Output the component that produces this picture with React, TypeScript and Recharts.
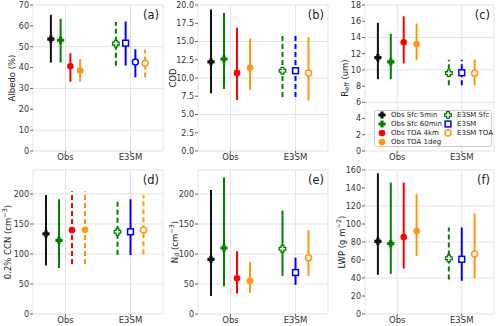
import React from 'react'
import { ComposedChart, Line, Scatter, XAxis, YAxis, CartesianGrid, ReferenceArea } from 'recharts'

const categories = ['Obs', 'E3SM']

// (a) albedo
const albedoKeys = ['obs5', 'obs60', 'toa4', 'toa1', 'e3sfc', 'e3', 'e3b', 'e3toa']
const albedoMean = [53.6, 53.1, 40.6, 38.6, 51.5, 51.7, 42.7, 42.1]
const albedoLow = [42.4, 42.4, 33.2, 33.2, 40.9, 40.9, 35.3, 35.2]
const albedoHigh = [65.3, 63.4, 46.9, 44.0, 61.8, 62.1, 48.8, 48.5]
const albedoTicks = [0, 10, 20, 30, 40, 50, 60, 70]

// (b) cloud optical depth
const codKeys = ['obs5', 'obs60', 'toa4', 'toa1', 'e3sfc', 'e3', 'e3toa']
const codMean = [12.2, 12.6, 10.7, 11.4, 11.0, 11.0, 10.7]
const codLow = [7.9, 8.5, 7.0, 8.4, 7.4, 7.4, 6.9]
const codHigh = [19.4, 18.9, 16.9, 15.4, 16.0, 16.0, 15.6]
const codTicks = [0, 2.5, 5, 7.5, 10, 12.5, 15, 17.5, 20]

// (c) effective radius
const reffKeys = ['obs5', 'obs60', 'toa4', 'toa1', 'e3sfc', 'e3', 'e3toa']
const reffMean = [11.5, 11.0, 13.4, 13.2, 9.6, 9.65, 9.6]
const reffLow = [8.85, 8.85, 10.8, 11.2, 8.1, 8.1, 8.1]
const reffHigh = [15.8, 14.45, 16.6, 15.7, 11.25, 11.25, 11.3]
const reffTicks = [0, 2, 4, 6, 8, 10, 12, 14, 16, 18]

// (d) CCN
const ccnKeys = ['obs5', 'obs60', 'toa4', 'toa1', 'e3sfc', 'e3', 'e3toa']
const ccnMean = [133.7, 122.7, 139.8, 140.3, 137, 137, 139.8]
const ccnLow = [80.7, 76.8, 83.4, 83.4, 98.9, 98.3, 99.4]
const ccnHigh = [198.3, 191.2, 204.4, 204.4, 191.2, 191.2, 197.8]
const ccnTicks = [0, 50, 100, 150, 200]

// (e) droplet number
const ndKeys = ['obs5', 'obs60', 'toa4', 'toa1', 'e3sfc', 'e3', 'e3toa']
const ndMean = [91.2, 110, 59.7, 55.2, 108.8, 69.1, 93.9]
const ndLow = [29.8, 46.4, 34.3, 35.4, 63.5, 48.6, 63.5]
const ndHigh = [206.6, 227.6, 104.4, 86.2, 172.4, 93.9, 139.8]
const ndTicks = [0, 50, 100, 150, 200]

// (f) LWP
const lwpKeys = ['obs5', 'obs60', 'toa4', 'toa1', 'e3sfc', 'e3', 'e3toa']
const lwpMean = [80.7, 78.2, 85.5, 92.2, 61.9, 60.8, 66.7]
const lwpLow = [43.5, 44.6, 50.5, 64.5, 38.3, 36.9, 39.8]
const lwpHigh = [156.3, 146, 146, 133.1, 96.2, 96.2, 111.7]
const lwpTicks = [0, 20, 40, 60, 80, 100, 120, 140, 160]

// line styles per panel (1 = dashed)
const albedoDash = [0, 0, 0, 0, 1, 0, 0, 1]
const codDash = [0, 0, 0, 0, 1, 1, 0]
const reffDash = [0, 0, 0, 0, 1, 1, 0]
const ccnDash = [0, 0, 1, 1, 1, 0, 1]
const ndDash = [0, 0, 0, 0, 0, 0, 0]
const lwpDash = [0, 0, 0, 0, 1, 0, 0]

const ORANGE = '#ff9510'
const GREEN = '#008000'

const seriesStyle: Record<string, { color: string; marker: string; group: number }> = {
  obs5: { color: '#111', marker: 'pfill', group: 0 },
  obs60: { color: GREEN, marker: 'pfill', group: 0 },
  toa4: { color: '#ff0000', marker: 'cfill', group: 0 },
  toa1: { color: ORANGE, marker: 'cfill', group: 0 },
  e3sfc: { color: GREEN, marker: 'popen', group: 1 },
  e3: { color: '#0000ff', marker: 'sopen', group: 1 },
  e3b: { color: '#0000ff', marker: 'copen', group: 1 },
  e3toa: { color: ORANGE, marker: 'copen', group: 1 },
}

const legendCol1 = [
  { label: 'Obs Sfc 5min', key: 'obs5' },
  { label: 'Obs Sfc 60min', key: 'obs60' },
  { label: 'Obs TOA 4km', key: 'toa4' },
  { label: 'Obs TOA 1deg', key: 'toa1' },
]
const legendCol2 = [
  { label: 'E3SM Sfc', key: 'e3sfc' },
  { label: 'E3SM', key: 'e3' },
  { label: 'E3SM TOA', key: 'e3toa' },
]

const FONT = 'DejaVu Sans, sans-serif'

function plusPoints(cx: number, cy: number, a: number, b: number) {
  const p = [[-b, -a], [b, -a], [b, -b], [a, -b], [a, b], [b, b], [b, a], [-b, a], [-b, b], [-a, b], [-a, -b], [-b, -b]]
  return p.map(([dx, dy]) => `${cx + dx},${cy + dy}`).join(' ')
}

function Marker({ cx, cy, kind, color }: { cx: number; cy: number; kind: string; color: string }) {
  if (cx == null || cy == null) return null
  switch (kind) {
    case 'pfill':
      return <polygon points={plusPoints(cx, cy, 3.6, 1.6)} fill={color} />
    case 'popen':
      return <polygon points={plusPoints(cx, cy, 3.3, 1.4)} fill="#fff" stroke={color} strokeWidth={1.3} />
    case 'cfill':
      return <circle cx={cx} cy={cy} r={3.3} fill={color} />
    case 'sopen':
      return <rect x={cx - 2.9} y={cy - 2.9} width={5.8} height={5.8} fill="#fff" stroke={color} strokeWidth={1.5} />
    case 'copen':
      return <circle cx={cx} cy={cy} r={3} fill="#fff" stroke={color} strokeWidth={1.5} />
  }
  return null
}

// x position of each series: category index plus offset inside the group
function positions(keys: string[], spacing: number) {
  return keys.map((k) => {
    const g = seriesStyle[k].group
    const members = keys.filter((kk) => seriesStyle[kk].group === g)
    const j = members.indexOf(k)
    return g + (j - (members.length - 1) / 2) * spacing
  })
}

type PanelProps = {
  left: number
  top: number
  width: number
  height: number
  xh: number
  yw: number
  mr: number
  keys: string[]
  mean: number[]
  low: number[]
  high: number[]
  dash: number[]
  ticks: number[]
  spacing: number
  fmt?: (v: number) => string
}

function Panel(p: PanelProps) {
  const pos = positions(p.keys, p.spacing)
  const yMax = p.ticks[p.ticks.length - 1] === 200 ? 240 : p.ticks[p.ticks.length - 1]
  return (
    <div style={{ position: 'absolute', left: p.left, top: p.top }}>
      <ComposedChart width={p.width} height={p.height} margin={{ top: 5, right: p.mr, bottom: 0, left: 0 }}>
        <CartesianGrid stroke="#e3e3e3" strokeWidth={1} />
        <XAxis
          type="number"
          dataKey="x"
          domain={[-0.5, 1.5]}
          ticks={[0, 1]}
          allowDataOverflow
          tickFormatter={(v) => categories[v]}
          height={p.xh}
          axisLine={false}
          tickSize={2}
          tickMargin={1}
          tickLine={{ stroke: '#666' }}
          tick={{ fontSize: 8.5, fill: '#333' }}
        />
        <YAxis
          type="number"
          dataKey="y"
          domain={[0, yMax]}
          ticks={p.ticks}
          allowDataOverflow
          width={p.yw}
          axisLine={false}
          tickSize={3}
          tickMargin={1}
          tickLine={{ stroke: '#666' }}
          tick={{ fontSize: 8, fill: '#333' }}
          tickFormatter={p.fmt}
        />
        <ReferenceArea fill="none" stroke="#a5a5a5" strokeWidth={1} />
        {p.keys.map((k, i) => (
          <Line
            key={'l' + k + i}
            data={[{ x: pos[i], y: p.low[i] }, { x: pos[i], y: p.high[i] }]}
            dataKey="y"
            stroke={seriesStyle[k].color}
            strokeWidth={2}
            strokeDasharray={p.dash[i] ? '5 3' : undefined}
            dot={false}
            activeDot={false}
            isAnimationActive={false}
          />
        ))}
        {p.keys.map((k, i) => (
          <Scatter
            key={'s' + k + i}
            data={[{ x: pos[i], y: p.mean[i] }]}
            dataKey="y"
            isAnimationActive={false}
            shape={(sp: any) => <Marker cx={sp.cx} cy={sp.cy} kind={seriesStyle[k].marker} color={seriesStyle[k].color} />}
          />
        ))}
      </ComposedChart>
    </div>
  )
}

function YTitle({ x, y, children }: { x: number; y: number; children: React.ReactNode }) {
  return (
    <text x={x} y={y} transform={`rotate(-90 ${x} ${y})`} textAnchor="middle" dominantBaseline="central" fontSize={8.5} fill="#222">
      {children}
    </text>
  )
}

function Tag({ x, y, t }: { x: number; y: number; t: string }) {
  return (
    <text x={x} y={y} textAnchor="end" fontSize={11.5} fill="#222">
      {t}
    </text>
  )
}

export default function App() {
  const top = { top: 0, height: 170, xh: 19 }
  const bot = { top: 165, height: 161, xh: 12 }
  return (
    <div style={{ position: 'absolute', left: 0, top: 0, width: 500, height: 326, background: '#fff', fontFamily: FONT }}>
      <Panel left={0} width={165} yw={33} mr={2} {...top} keys={albedoKeys} mean={albedoMean} low={albedoLow} high={albedoHigh} dash={albedoDash} ticks={albedoTicks} spacing={0.15} />
      <Panel left={165} width={165} yw={33} mr={2} {...top} keys={codKeys} mean={codMean} low={codLow} high={codHigh} dash={codDash} ticks={codTicks} spacing={0.2} fmt={(v) => v.toFixed(1)} />
      <Panel left={330} width={170} yw={35} mr={6} {...top} keys={reffKeys} mean={reffMean} low={reffLow} high={reffHigh} dash={reffDash} ticks={reffTicks} spacing={0.2} />
      <Panel left={0} width={165} yw={33} mr={2} {...bot} keys={ccnKeys} mean={ccnMean} low={ccnLow} high={ccnHigh} dash={ccnDash} ticks={ccnTicks} spacing={0.2} />
      <Panel left={165} width={165} yw={33} mr={2} {...bot} keys={ndKeys} mean={ndMean} low={ndLow} high={ndHigh} dash={ndDash} ticks={ndTicks} spacing={0.2} />
      <Panel left={330} width={170} yw={35} mr={6} {...bot} keys={lwpKeys} mean={lwpMean} low={lwpLow} high={lwpHigh} dash={lwpDash} ticks={lwpTicks} spacing={0.2} />
      <svg width={500} height={326} style={{ position: 'absolute', left: 0, top: 0, pointerEvents: 'none', fontFamily: FONT }}>
        <YTitle x={12} y={78}>Albedo (%)</YTitle>
        <YTitle x={173} y={78}>COD</YTitle>
        <YTitle x={345} y={78}>
          R<tspan dy={2} fontSize={6.5}>eff</tspan>
          <tspan dy={-2}> (um)</tspan>
        </YTitle>
        <YTitle x={8} y={242}>
          0.2% CCN (cm<tspan dy={-3} fontSize={6.5}>−3</tspan>
          <tspan dy={3}>)</tspan>
        </YTitle>
        <YTitle x={175} y={242}>
          N<tspan dy={2} fontSize={6.5}>d</tspan>
          <tspan dy={-2}> (cm</tspan>
          <tspan dy={-3} fontSize={6.5}>−3</tspan>
          <tspan dy={3}>)</tspan>
        </YTitle>
        <YTitle x={342} y={242}>
          LWP (g m<tspan dy={-3} fontSize={6.5}>−2</tspan>
          <tspan dy={3}>)</tspan>
        </YTitle>
        <Tag x={159} y={19} t="(a)" />
        <Tag x={324} y={19} t="(b)" />
        <Tag x={490} y={19} t="(c)" />
        <Tag x={159} y={184} t="(d)" />
        <Tag x={324} y={184} t="(e)" />
        <Tag x={490} y={184} t="(f)" />
        <rect x={374.5} y={110.5} width={117} height={36} rx={2} fill="#fff" fillOpacity={0.9} stroke="#cccccc" />
        {legendCol1.map((it, i) => (
          <g key={it.key}>
            <Marker cx={382} cy={115 + i * 9} kind={seriesStyle[it.key].marker} color={seriesStyle[it.key].color} />
            <text x={391} y={115 + i * 9} dominantBaseline="central" fontSize={7} fill="#222">
              {it.label}
            </text>
          </g>
        ))}
        {legendCol2.map((it, i) => (
          <g key={it.key}>
            <Marker cx={448} cy={115 + i * 9} kind={seriesStyle[it.key].marker} color={seriesStyle[it.key].color} />
            <text x={457} y={115 + i * 9} dominantBaseline="central" fontSize={7} fill="#222">
              {it.label}
            </text>
          </g>
        ))}
      </svg>
    </div>
  )
}
